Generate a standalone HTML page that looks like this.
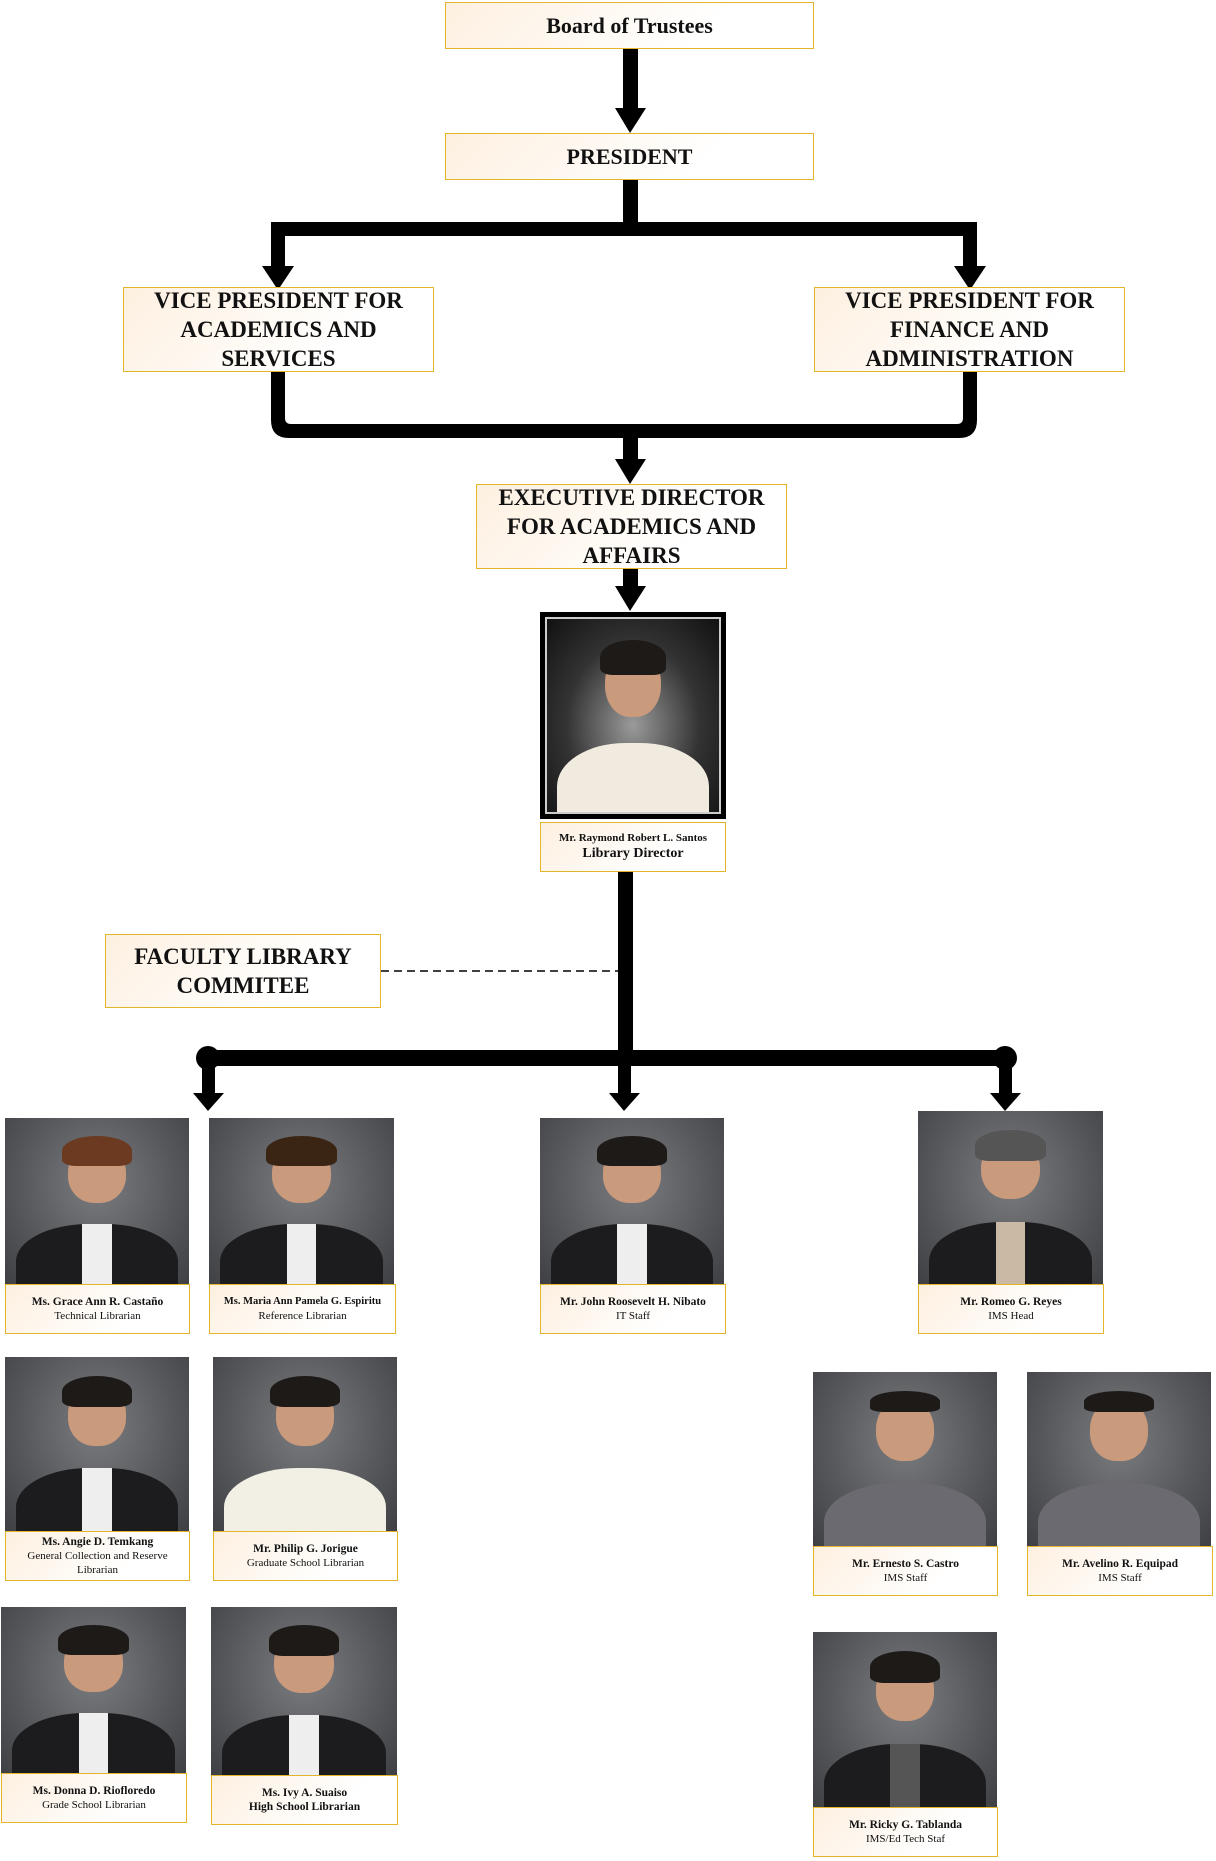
<!DOCTYPE html>
<html><head><meta charset="utf-8"><style>
*{margin:0;padding:0;box-sizing:border-box}
body{width:1216px;height:1861px;background:#fff;position:relative;overflow:hidden;font-family:"Liberation Serif",serif;color:#111}
.box{position:absolute;border:1.5px solid #e3b52c;background:linear-gradient(135deg,#fdf0e0 0%,#fff 70%);display:flex;align-items:center;justify-content:center;text-align:center;font-weight:bold}
.big{font-size:23px;line-height:29px}
.ph{position:absolute;background:radial-gradient(ellipse at 50% 40%,#7a7c80 0%,#55575b 60%,#3e4044 100%);overflow:hidden}
.ph .head{position:absolute;left:34%;top:15%;width:32%;height:36%;border-radius:50% 50% 45% 45%;background:#c99a7c}
.ph .hair{position:absolute;left:31%;top:11%;width:38%;height:18%;border-radius:50% 50% 20% 20%;background:#1e1a18}
.ph .body{position:absolute;left:6%;top:64%;width:88%;height:50%;border-radius:45% 45% 0 0;background:#1c1c1e}
.ph .shirt{position:absolute;left:42%;top:64%;width:16%;height:40%;background:#eee}
.lab{position:absolute;border:1.5px solid #e3b52c;background:linear-gradient(135deg,#fdf0e0 0%,#fff 70%);text-align:center;font-size:11px;line-height:14px;display:flex;flex-direction:column;justify-content:center}
.lab b{font-size:11.5px}
</style></head><body>
<svg width="1216" height="1861" style="position:absolute;left:0;top:0">
<g fill="#000">
<rect x="623" y="48" width="15" height="65"/><polygon points="615,108 646,108 630,133"/>
<rect x="623" y="179" width="15" height="45"/>
<rect x="271" y="222" width="706" height="14"/>
<rect x="271" y="222" width="14" height="50"/><rect x="963" y="222" width="14" height="50"/>
<polygon points="262,266 294,266 278,290"/><polygon points="954,266 986,266 970,290"/>
<path d="M271 371 V420 Q271 438 289 438 H959 Q977 438 977 420 V371 H963 V418 Q963 424 957 424 H291 Q285 424 285 418 V371 Z"/>
<rect x="623" y="424" width="15" height="40"/><polygon points="615,459 646,459 630,484"/>
<rect x="623" y="568" width="15" height="20"/><polygon points="615,586 646,586 630,611"/>
<rect x="618" y="872" width="15" height="186"/>
<rect x="208" y="1050" width="797" height="16"/>
<circle cx="208" cy="1058" r="12"/><circle cx="1005" cy="1058" r="12"/>
<rect x="202" y="1058" width="13" height="38"/><polygon points="193,1093 224,1093 208,1111"/>
<rect x="618" y="1058" width="13" height="38"/><polygon points="609,1093 640,1093 624,1111"/>
<rect x="999" y="1058" width="13" height="38"/><polygon points="990,1093 1021,1093 1005,1111"/>
</g>
<line x1="381" y1="971" x2="618" y2="971" stroke="#000" stroke-width="1.5" stroke-dasharray="8,5"/>
</svg>

<div class="box" style="left:445px;top:2px;width:369px;height:47px;font-size:22px">Board of Trustees</div>
<div class="box" style="left:445px;top:133px;width:369px;height:47px;font-size:22px">PRESIDENT</div>
<div class="box big" style="left:123px;top:287px;width:311px;height:85px">VICE PRESIDENT FOR<br>ACADEMICS AND<br>SERVICES</div>
<div class="box big" style="left:814px;top:287px;width:311px;height:85px">VICE PRESIDENT FOR<br>FINANCE AND<br>ADMINISTRATION</div>
<div class="box big" style="left:476px;top:484px;width:311px;height:85px">EXECUTIVE DIRECTOR<br>FOR ACADEMICS AND<br>AFFAIRS</div>
<div class="box big" style="left:105px;top:934px;width:276px;height:74px">FACULTY LIBRARY<br>COMMITEE</div>

<div style="position:absolute;left:540px;top:612px;width:186px;height:207px;background:#000;padding:5px">
<div class="ph" style="position:relative;width:100%;height:100%;border:2px solid #ccc;background:radial-gradient(ellipse at 50% 55%,#9a9a9a 0%,#333 55%,#111 100%)"><div class="body" style="background:#f1ebdf"></div><div class="head"></div><div class="hair"></div></div></div>
<div class="lab" style="left:540px;top:822px;width:186px;height:50px"><b style="font-size:11px">Mr. Raymond Robert L. Santos</b><b style="font-size:14px;line-height:18px">Library Director</b></div>

<div class="ph" style="left:5px;top:1118px;width:184px;height:166px"><div class="body"></div><div class="shirt"></div><div class="head"></div><div class="hair" style="background:#6b3a20"></div></div>
<div class="lab" style="left:5px;top:1284px;width:185px;height:50px"><b>Ms. Grace Ann R. Castaño</b>Technical Librarian</div>
<div class="ph" style="left:209px;top:1118px;width:185px;height:166px"><div class="body"></div><div class="shirt"></div><div class="head"></div><div class="hair" style="background:#3a2515"></div></div>
<div class="lab" style="left:209px;top:1284px;width:187px;height:50px"><b style="font-size:10.5px">Ms. Maria Ann Pamela G. Espiritu</b>Reference Librarian</div>
<div class="ph" style="left:540px;top:1118px;width:184px;height:166px"><div class="body"></div><div class="shirt"></div><div class="head"></div><div class="hair"></div></div>
<div class="lab" style="left:540px;top:1284px;width:186px;height:50px"><b>Mr. John Roosevelt H. Nibato</b>IT Staff</div>
<div class="ph" style="left:918px;top:1111px;width:185px;height:173px"><div class="body"></div><div class="shirt" style="background:#c9b9a5"></div><div class="head"></div><div class="hair" style="background:#555"></div></div>
<div class="lab" style="left:918px;top:1284px;width:186px;height:50px"><b>Mr. Romeo G. Reyes</b>IMS Head</div>

<div class="ph" style="left:5px;top:1357px;width:184px;height:174px"><div class="body"></div><div class="shirt"></div><div class="head"></div><div class="hair"></div></div>
<div class="lab" style="left:5px;top:1531px;width:185px;height:50px"><b>Ms. Angie D. Temkang</b>General Collection and Reserve<br>Librarian</div>
<div class="ph" style="left:213px;top:1357px;width:184px;height:174px"><div class="body" style="background:#f2efe4"></div><div class="head"></div><div class="hair"></div></div>
<div class="lab" style="left:213px;top:1531px;width:185px;height:50px"><b>Mr. Philip G. Jorigue</b>Graduate School Librarian</div>

<div class="ph" style="left:813px;top:1372px;width:184px;height:174px"><div class="body" style="background:#6b6a70"></div><div class="head"></div><div class="hair" style="height:12%"></div></div>
<div class="lab" style="left:813px;top:1546px;width:185px;height:50px"><b>Mr. Ernesto S. Castro</b>IMS Staff</div>
<div class="ph" style="left:1027px;top:1372px;width:184px;height:174px"><div class="body" style="background:#6b6a70"></div><div class="head"></div><div class="hair" style="height:12%"></div></div>
<div class="lab" style="left:1027px;top:1546px;width:186px;height:50px"><b>Mr. Avelino R. Equipad</b>IMS Staff</div>

<div class="ph" style="left:1px;top:1607px;width:185px;height:166px"><div class="body"></div><div class="shirt"></div><div class="head"></div><div class="hair"></div></div>
<div class="lab" style="left:1px;top:1773px;width:186px;height:50px"><b>Ms. Donna D. Riofloredo</b>Grade School Librarian</div>
<div class="ph" style="left:211px;top:1607px;width:186px;height:168px"><div class="body"></div><div class="shirt"></div><div class="head"></div><div class="hair"></div></div>
<div class="lab" style="left:211px;top:1775px;width:187px;height:50px"><b>Ms. Ivy A. Suaiso</b><b>High School Librarian</b></div>

<div class="ph" style="left:813px;top:1632px;width:184px;height:175px"><div class="body"></div><div class="shirt" style="background:#555"></div><div class="head"></div><div class="hair"></div></div>
<div class="lab" style="left:813px;top:1807px;width:185px;height:50px"><b>Mr. Ricky G. Tablanda</b>IMS/Ed Tech Staf</div>
</body></html>
